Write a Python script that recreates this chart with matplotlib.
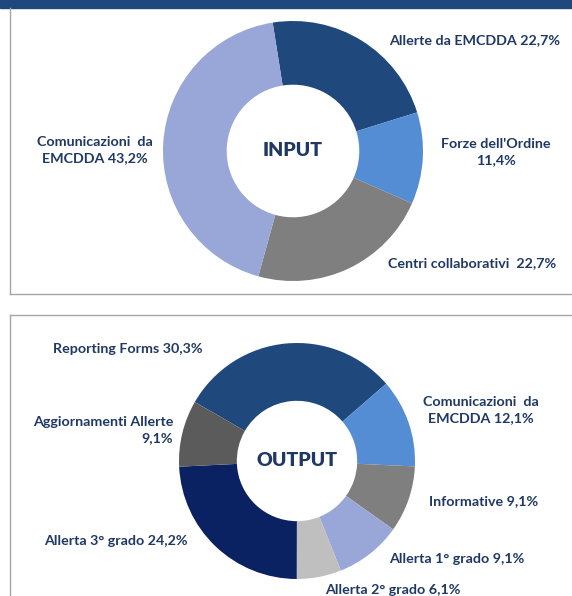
import matplotlib
matplotlib.use('Agg')
import matplotlib.pyplot as plt
from matplotlib.lines import Line2D
from matplotlib.patches import Rectangle

# dati INPUT
input_labels = ['Allerte da EMCDDA 22,7%', "Forze dell'Ordine\n11,4%",
                'Centri collaborativi  22,7%', 'Comunicazioni  da\nEMCDDA 43,2%']
input_values = [22.7, 11.4, 22.7, 43.2]
input_colors = ['#1f497d', '#548dd4', '#7f7f7f', '#98a6d8']

# dati OUTPUT
output_labels = ['Reporting Forms 30,3%', 'Comunicazioni  da\nEMCDDA 12,1%',
                 'Informative 9,1%', 'Allerta 1° grado 9,1%',
                 'Allerta 2° grado 6,1%', 'Allerta 3° grado 24,2%',
                 'Aggiornamenti Allerte\n9,1%']
output_values = [30.3, 12.1, 9.1, 9.1, 6.1, 24.2, 9.1]
output_colors = ['#1f497d', '#548dd4', '#7f7f7f', '#98a6d8',
                 '#bfbfbf', '#0b2262', '#5b5b5b']

# posizioni delle etichette in pixel (x, y, allineamento)
input_pos = [(389, 40, 'left'), (496, 152, 'center'),
             (388, 263, 'left'), (95, 150, 'center')]
output_pos = [(53, 349, 'left'), (481, 410, 'center'), (429, 501, 'left'),
              (389, 559, 'left'), (325, 590, 'left'), (44, 541, 'left'),
              (173, 430, 'right')]

W, H = 572, 596
TXT = '#1f3864'
FONT = 'Lato'

fig = plt.figure(figsize=(W/100, H/100), dpi=100)


def px(x, y):
    return x / W, 1 - y / H


def donut(cx, cy, r, values, colors, start, title):
    ax = fig.add_axes([(cx - r) / W, 1 - (cy + r) / H, 2 * r / W, 2 * r / H])
    ax.pie(values, colors=colors, startangle=start, counterclock=False,
           radius=1, wedgeprops=dict(width=0.49, linewidth=0.6, edgecolor='none'))
    ax.set_xlim(-1, 1)
    ax.set_ylim(-1, 1)
    ax.set_aspect('auto')
    ax.axis('off')
    ax.text(0, 0, title, ha='center', va='center', fontsize=14,
            fontweight='heavy', color=TXT, family=FONT)
    return ax


def labels(texts, pos):
    for t, (x, y, ha) in zip(texts, pos):
        fx, fy = px(x, y)
        fig.text(fx, fy, t, ha=ha, va='center', fontsize=10.3,
                 fontweight='bold', color=TXT, family=FONT,
                 linespacing=1.5, multialignment=ha)


# cornici
fig.patches.append(Rectangle(px(0, 8), 1, 8 / H, transform=fig.transFigure,
                             color='#1f497d', zorder=0))
grey = '#a6a6a6'
for xs, ys in [([10, 10], [8, 294]), ([10, W], [294, 294]),
               ([10, W], [315, 315]), ([10, 10], [315, H])]:
    fig.lines.append(Line2D([x / W for x in xs], [1 - y / H for y in ys],
                            transform=fig.transFigure, color=grey, lw=1.0))

donut(293, 151, 130, input_values, input_colors, 99, 'INPUT')
labels(input_labels, input_pos)

donut(297, 461, 118, output_values, output_colors, 150, 'OUTPUT')
labels(output_labels, output_pos)

fig.savefig('out.png', dpi=100)
